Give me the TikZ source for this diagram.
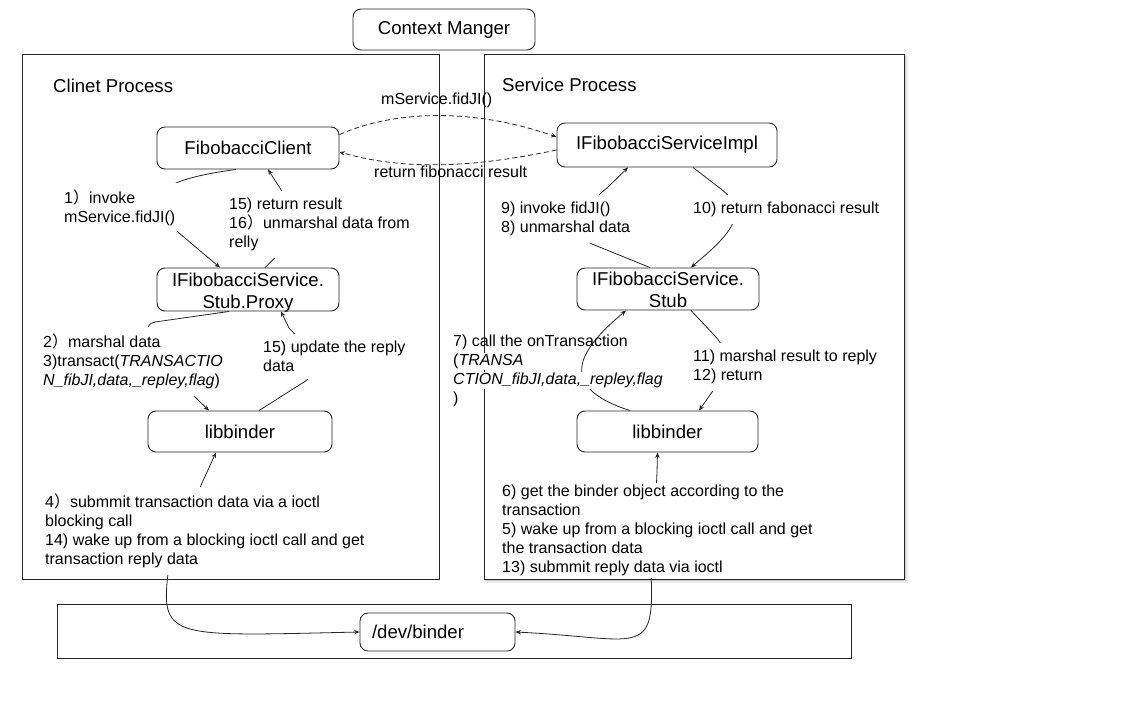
\documentclass[tikz,border=0pt]{standalone}
\usepackage{fontspec}
\setmainfont{Liberation Sans}
\newfontfamily\cjkfont{Noto Sans CJK SC}
\usetikzlibrary{arrows.meta,calc}
% full-width closing parenthesis used in the step numbers
\newcommand{\fwp}{{\cjkfont ）}}
% two-line box caption with fixed vertical metrics
\newcommand{\twoline}[2]{\raisebox{0pt}[15.5pt][0pt]{#1}\\\raisebox{0pt}[0pt][0pt]{#2}}

\begin{document}
\begin{tikzpicture}[x=1pt,y=-1pt,
  every node/.style={font=\fontsize{16}{19}\selectfont},
  rbox/.style={draw=black!85, line width=0.9pt, rounded corners=8pt, align=center,
    font=\fontsize{18.6}{22}\selectfont, inner sep=0pt},
  procframe/.style={draw=black!85, line width=0.9pt, fill=white, inner sep=0pt},
  lbl/.style={anchor=base west, align=left, inner xsep=2pt, inner ysep=0pt},
  lblw/.style={lbl, fill=white, inner ysep=7pt},
  ttl/.style={anchor=base west, inner sep=0pt, font=\fontsize{18.6}{22}\selectfont},
  conn/.style={line width=0.8pt, black!85},
  arr/.style={-{Stealth[length=5.5pt,width=4.5pt]}},
  arrboth/.style={{Stealth[length=5.5pt,width=4.5pt]}-{Stealth[length=5.5pt,width=4.5pt]}},
  dashconn/.style={conn, dash pattern=on 5pt off 3pt},
]
\useasboundingbox (0,0) rectangle (1123,724);

% process frames (the service frame carries a soft shadow)
\fill[black!8]  (485,56) rectangle (907.5,582.5);
\fill[black!20] (485,55) rectangle (906,581);
\node[procframe, minimum width=420pt, minimum height=525pt] (sproc) at (694,316.5) {};
\node[procframe, minimum width=417pt, minimum height=525pt] (cproc) at (230.5,316.5) {};
\node[procframe, minimum width=794pt, minimum height=54pt] (kern) at (454,631) {};

% components
\node[rbox, minimum width=182pt, minimum height=41pt] (ctx) at (444,29.5) {Context Manger};
\node[rbox, minimum width=182pt, minimum height=42pt] (client) at (248,148) {FibobacciClient};
\node[rbox, minimum width=182pt, minimum height=43pt] (proxy) at (248,289.5) {\twoline{IFibobacciService.}{Stub.Proxy}};
\node[rbox, minimum width=184pt, minimum height=41pt] (libc) at (240,431.5) {libbinder};
\node[rbox, minimum width=220pt, minimum height=44pt] (impl) at (667,145) {IFibobacciServiceImpl};
\node[rbox, minimum width=182pt, minimum height=42pt] (stub) at (668,289) {\twoline{IFibobacciService.}{Stub}};
\node[rbox, minimum width=181pt, minimum height=41pt] (libs) at (667.5,431.5) {libbinder};
\node[rbox, minimum width=155pt, minimum height=38pt, text width=131pt, align=left, inner xsep=12pt] (dev) at (437.5,632) {/dev/binder};

% remote call between client and implementation
\draw[dashconn, arr] ($(client.north east)+(0,8)$) .. controls (400,108) and (480,110) .. ($(impl.west)+(0,-8)$);
\draw[dashconn, arr] ($(impl.west)+(0,5)$) .. controls (480,166) and (410,172) .. ($(client.east)+(0,4)$);

% client side
\draw[conn, arr] ($(client.south)+(-12,0)$) .. controls (150,181) and (140,200) .. (179,233) -- ($(proxy.north)+(-28,0)$);
\draw[conn, arr] ($(proxy.north)+(17,0)$) -- (281,252) .. controls (300,233) and (292,205) .. (278,185) -- ($(client.south)+(20,0)$);
\draw[conn, arr] ($(proxy.south)+(-19,0)$) -- (155,322) .. controls (130,325) and (180,382) .. (198,400) -- ($(libc.north)+(-31,0)$);
\draw[conn, arr] ($(libc.north)+(19,0)$) -- (304,382) .. controls (330,365) and (300,340) .. (289,328) -- ($(proxy.south)+(33,0)$);
\draw[conn, arrboth] ($(libc.south)+(-24,0)$) -- (202,483) .. controls (195,500) and (170,540) .. (168,574)
  .. controls (160,640) and (175,636) .. (dev.west);

% service side
\draw[conn, arr] ($(stub.north)+(-18,0)$) -- (592,244) .. controls (570,235) and (590,200) .. (607,188) -- ($(impl.south)+(-39,0)$);
\draw[conn, arr] ($(impl.south)+(26,0)$) -- (721,189) .. controls (735,200) and (740,212) .. (733,223)
  .. controls (725,240) and (705,255) .. ($(stub.north)+(23,0)$);
\draw[conn, arr] ($(stub.south)+(23,0)$) -- (715,336) .. controls (730,352) and (728,372) .. (717,385) -- ($(libs.north)+(31.5,0)$);
\draw[conn, arr] ($(libs.north)+(-37.5,0)$) .. controls (550,385) and (585,345) .. ($(stub.south)+(-42,0)$);
\draw[conn, arrboth] ($(libs.south)+(-10,0)$) -- (657,472) .. controls (655,520) and (652,550) .. (651,573)
  .. controls (655,660) and (640,638) .. (dev.east);

% titles
\node[ttl] (ctitle) at (53,92.5) {Clinet Process};
\node[ttl] (stitle) at (502,91.5) {Service Process};

% step labels (placed by the baseline of their last line)
\node[lbl] (lcall) at (379,104) {mService.fidJI()};
\node[lbl] (lret) at (372,177.5) {return fibonacci result};
\node[lblw] (l1) at (62,222.5) {1\fwp invoke\\mService.fidJI()};
\node[lblw] (l15a) at (227,247.5) {15) return result\\16\fwp unmarshal data from\\relly};
\node[lblw] (l2) at (41,385.5) {2\fwp marshal data\\3)transact(\textit{TRANSACTIO}\\\textit{N\_fibJI,data,\_repley,flag})};
\node[lblw] (l15b) at (261,371.5) {15) update the reply\\data};
\node[lblw] (l4) at (43,564.5) {4\fwp submmit transaction data via a ioctl\\blocking call\\14) wake up from a blocking ioctl call and get\\transaction reply data};
\node[lblw] (l9) at (499,232.5) {9) invoke fidJI()\\8) unmarshal data};
\node[lblw] (l10) at (691,213.5) {10) return fabonacci result};
\node[lblw] (l11) at (691,380.5) {11) marshal result to reply\\12) return};
\node[lblw, inner ysep=2pt] (l6) at (500,572.5) {6) get the binder object according to the\\transaction\\5) wake up from a blocking ioctl call and get\\the transaction data\\13) submmit reply data via ioctl};
\node[lbl] (l7a) at (451,346.5) {7) call the onTransaction};
\node[lbl, fill=white, inner ysep=1pt] (l7b) at (451,365.5) {(\textit{TRANSA}};
\node[lbl, fill=white, inner ysep=1pt] (l7c) at (451,384.5) {\textit{CTION\_fibJI,data,\_repley,flag}};
\node[lbl] (l7d) at (451,403.5) {)};
\end{tikzpicture}
\end{document}
